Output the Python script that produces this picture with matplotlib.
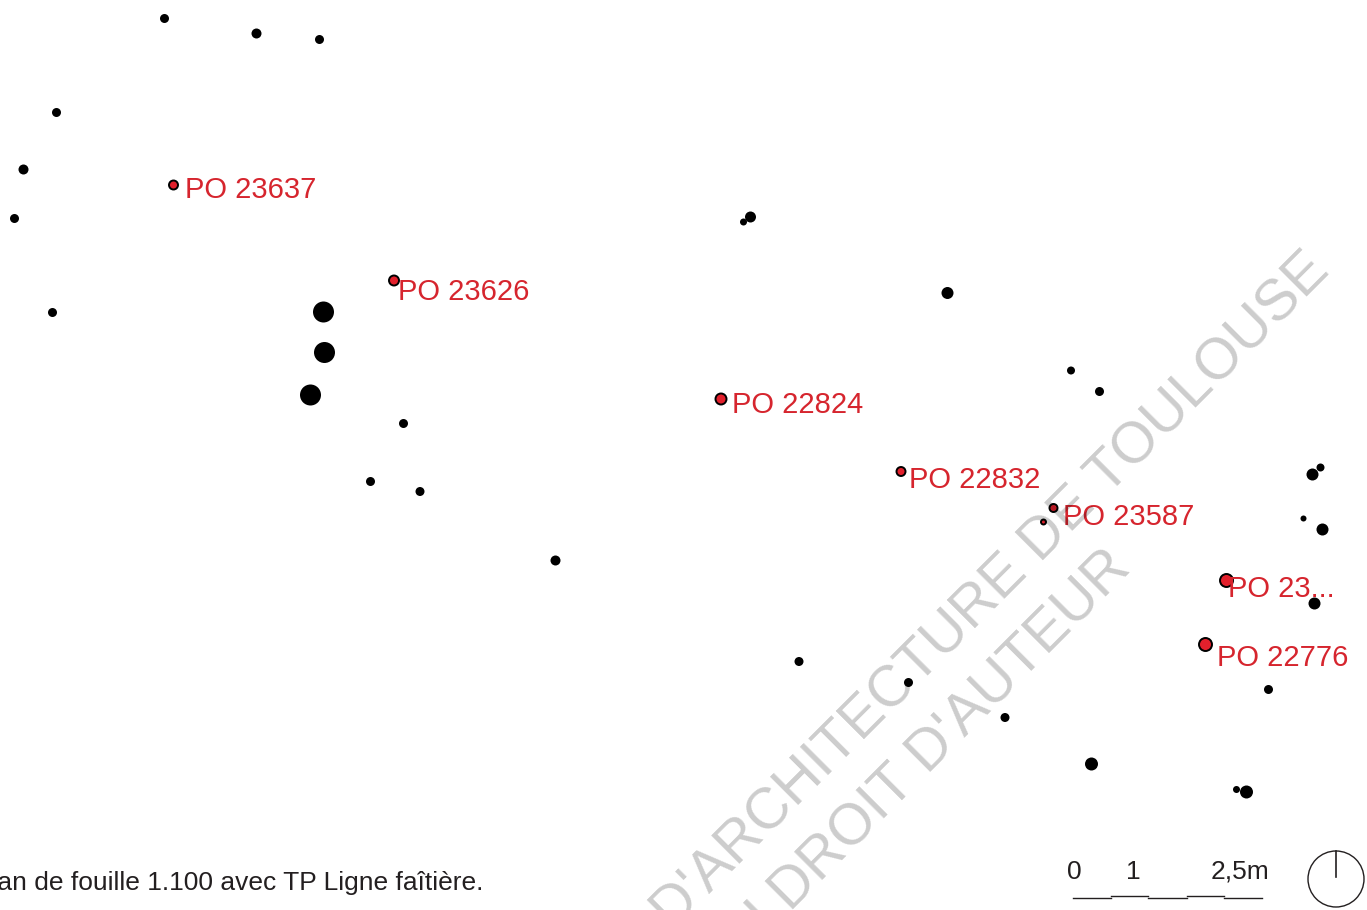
import matplotlib
matplotlib.use("Agg")
import matplotlib.pyplot as plt
from matplotlib.patches import Circle

# points (pixels of the reference)
black_x = [164.5, 256.5, 319.5, 56.5, 23.5, 14.5, 52.5, 323.5, 324.5, 310.5, 403.5, 370.5, 420, 555.5, 750.5, 743.5, 947.5,
           1071, 1099.5, 1312.5, 1320.5, 1303.5, 1322.5, 1314.5, 799, 908.5, 1005, 1091.5, 1268.5, 1236.5, 1246.5]
black_y = [18.5, 33.5, 39.5, 112.5, 169.5, 218.5, 312.5, 312, 352.5, 395, 423.5, 481.5, 491.5, 560.5, 217, 222, 293,
           370.5, 391.5, 474.5, 467.5, 518.5, 529.5, 603.5, 661.5, 682.5, 717.5, 764, 689.5, 789.5, 792]
black_d = [9, 10, 9, 9, 10, 9, 9, 21, 21, 21, 9, 9, 9, 10, 11, 7, 12,
           8, 9, 12, 8, 6, 12, 12, 9, 9, 9, 13, 9, 7, 13]

red_x = [173.5, 394, 721, 901, 1053.5, 1043.5, 1226.5, 1205.5]
red_y = [185, 280.5, 399, 471.5, 508, 522, 580.5, 644.5]
red_d = [11, 12, 13, 11, 10, 7, 15, 15]

labels = ["PO 23637", "PO 23626", "PO 22824", "PO 22832", "PO 23587", "PO 23...", "PO 22776"]
label_x = [185, 398, 732, 909, 1063, 1228, 1217]
label_y = [198, 300, 413, 488, 525, 597, 666]

scale_x = [1073, 1111, 1148, 1187, 1224, 1262]
scale_y = [897.5, 895.5, 897.5, 895.5, 897.5]
scale_labels = ["0", "1", "2,5m"]
scale_label_x = [1074, 1133, 1239.5]

plt.rcParams['font.family'] = ['Liberation Sans', 'DejaVu Sans']

fig = plt.figure(figsize=(13.67, 9.10), dpi=100)
ax = fig.add_axes([0, 0, 1, 1])
ax.set_xlim(0, 1367)
ax.set_ylim(910, 0)
ax.axis('off')


def px_size(d):
    return (d * 0.72) ** 2


ax.scatter(black_x, black_y, s=[px_size(d) for d in black_d], c='black', linewidths=0, zorder=3)
ax.scatter(red_x, red_y, s=[px_size(d - 2) for d in red_d], c='#e2202c', edgecolors='black',
           linewidths=1.4, zorder=3)

for name, x, y in zip(labels, label_x, label_y):
    ax.text(x, y, name, fontsize=21, color='#d6252e', ha='left', va='baseline', zorder=4)

ax.text(483, 890, "Plan de fouille 1.100 avec TP Ligne faîtière.", fontsize=19, color='#231f20',
        ha='right', va='baseline', zorder=4)

# echelle
for i in range(len(scale_x) - 1):
    ax.plot(scale_x[i:i + 2], [scale_y[i], scale_y[i]], color='#231f20', lw=1, zorder=4)
for name, x in zip(scale_labels, scale_label_x):
    ax.text(x, 879, name, fontsize=19, color='#231f20', ha='center', va='baseline', zorder=4)

# nord
ax.add_patch(Circle((1336, 879), 28, fill=False, edgecolor='#231f20', lw=1, zorder=4))
ax.plot([1336, 1336], [851, 877], color='#231f20', lw=1.2, zorder=4)

# filigrane, transparent et par-dessus le reste
ax.text(1332, 273, "D'ARCHITECTURE DE TOULOUSE", fontsize=41.5, color='black', alpha=0.2, rotation=45,
        ha='right', va='baseline', rotation_mode='anchor', zorder=5, clip_on=True)
ax.text(1133, 570, "AU DROIT D'AUTEUR", fontsize=41.5, color='black', alpha=0.2, rotation=45,
        ha='right', va='baseline', rotation_mode='anchor', zorder=5, clip_on=True)

fig.savefig("out.png", dpi=100)
plt.close(fig)
